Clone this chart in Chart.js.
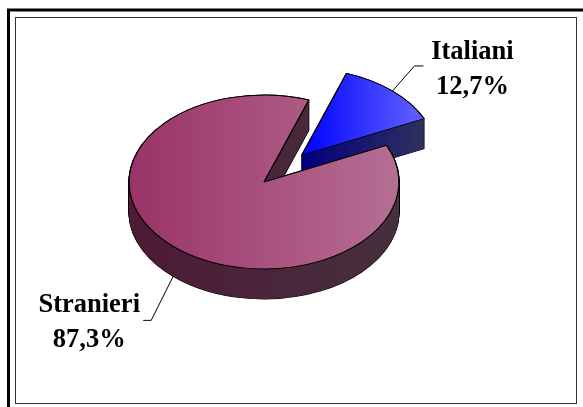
<!DOCTYPE html>
<html>
<head>
<meta charset="utf-8">
<style>html,body{margin:0;padding:0;background:#fff}canvas{display:block}</style>
<script src="https://cdn.jsdelivr.net/npm/chart.js@4"></script>
</head>
<body>
<canvas id="c" width="583" height="407" style="width:583px;height:407px"></canvas>
<script>
const categories = ['Italiani', 'Stranieri'];
const shares = [12.7, 87.3];
const explode = [56, 0];
const topColors = [['#0000ff', '#6464ff'], ['#9a3367', '#b66f94']];
const sideColors = [['#000080', '#30305e'], ['#4e1a36', '#46303d']];
const leaders = [[22, -25, 9], [-22, 44, -8]];
const labelOffsets = [[58, -14], [-62, -15]];

const TILT = 0.644, DEPTH = 30, LINE_GAP = 35;

function extent(a) {
  const xs = [a.x, a.x + Math.cos(a.startAngle) * a.outerRadius, a.x + Math.cos(a.endAngle) * a.outerRadius];
  for (let k = -2; k <= 4; k++) {
    const t = k * Math.PI;
    if (t > a.startAngle && t < a.endAngle) xs.push(a.x + Math.cos(t) * a.outerRadius);
  }
  return [Math.min(...xs), Math.max(...xs)];
}
function grad(ctx, a, cols) {
  const [l, r] = extent(a);
  const g = ctx.createLinearGradient(l, 0, r, 0);
  g.addColorStop(0, cols[0]);
  g.addColorStop(1, cols[1]);
  return g;
}
function place(ctx, a, i, d) {
  const mid = (a.startAngle + a.endAngle) / 2;
  ctx.translate(0, d);
  ctx.translate(a.x, a.y);
  ctx.scale(1, TILT);
  ctx.translate(-a.x, -a.y);
  ctx.translate(Math.cos(mid) * explode[i], Math.sin(mid) * explode[i]);
}
function paint(ctx, a, i, d, over) {
  const o = a.options;
  a.options = Object.assign({}, o, over);
  ctx.save();
  place(ctx, a, i, d);
  a.draw(ctx);
  ctx.restore();
  a.options = o;
}

const pie3d = {
  id: 'pie3d',
  beforeDraw(chart) {
    const ctx = chart.ctx;
    ctx.save();
    ctx.strokeStyle = '#000';
    ctx.lineWidth = 3;
    ctx.strokeRect(8.5, 10, 600, 420);
    ctx.strokeStyle = '#333';
    ctx.lineWidth = 1;
    ctx.strokeRect(15.5, 17.5, 561, 386);
    ctx.restore();
  },
  beforeDatasetDraw(chart) {
    const ctx = chart.ctx;
    const arcs = chart.getDatasetMeta(0).data;
    arcs.forEach((a, i) => {
      for (let d = DEPTH; d >= 0; d--) {
        paint(ctx, a, i, d, { backgroundColor: '#000', borderColor: '#000', borderWidth: 1.3 });
      }
      const side = grad(ctx, a, sideColors[i]);
      for (let d = DEPTH; d >= 1; d--) {
        paint(ctx, a, i, d, { backgroundColor: side, borderWidth: 0 });
      }
      paint(ctx, a, i, 0, { backgroundColor: grad(ctx, a, topColors[i]), borderColor: '#000', borderWidth: 1.3 });
    });
    return false;
  },
  afterDatasetsDraw(chart) {
    const ctx = chart.ctx;
    const arcs = chart.getDatasetMeta(0).data;
    ctx.save();
    arcs.forEach((a, i) => {
      const mid = (a.startAngle + a.endAngle) / 2;
      const ax = a.x + Math.cos(mid) * (a.outerRadius + explode[i]);
      let ay = a.y + Math.sin(mid) * (a.outerRadius + explode[i]) * TILT;
      if (Math.sin(mid) > 0) ay += DEPTH;
      const [dx, dy, tail] = leaders[i];
      ctx.strokeStyle = '#000';
      ctx.lineWidth = 1;
      ctx.beginPath();
      ctx.moveTo(ax, ay);
      ctx.lineTo(ax + dx, ay + dy);
      ctx.lineTo(ax + dx + tail, ay + dy);
      ctx.stroke();
      const lx = ax + dx + labelOffsets[i][0];
      const ly = ay + dy + labelOffsets[i][1];
      ctx.fillStyle = '#000';
      ctx.font = 'bold 26.5px "Liberation Serif"';
      ctx.textAlign = 'center';
      ctx.textBaseline = 'middle';
      ctx.fillText(categories[i], lx, ly);
      ctx.fillText(shares[i].toFixed(1).replace('.', ',') + '%', lx, ly + LINE_GAP);
    });
    ctx.restore();
  }
};

new Chart(document.getElementById('c'), {
  type: 'pie',
  data: {
    labels: categories,
    datasets: [{ data: shares, backgroundColor: ['#0000ff', '#993366'], borderColor: '#000', borderWidth: 1 }]
  },
  options: {
    responsive: false,
    animation: false,
    rotation: 19.4,
    radius: 135,
    layout: { padding: { right: 55, bottom: 43 } },
    plugins: { legend: { display: false }, tooltip: { enabled: false }, title: { display: false } }
  },
  plugins: [pie3d]
});
</script>
</body>
</html>
